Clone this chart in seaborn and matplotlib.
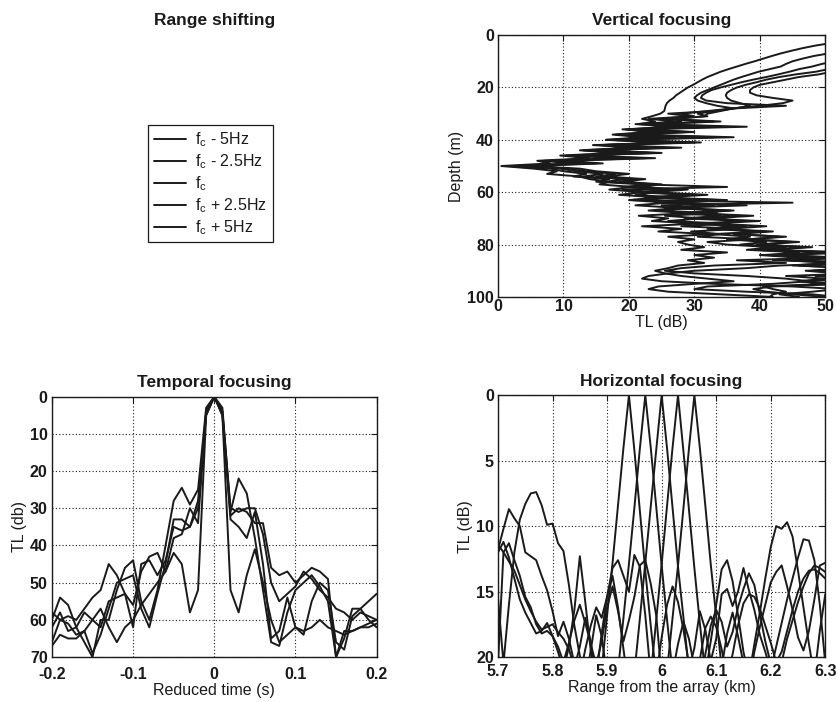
import matplotlib
matplotlib.use("Agg")
import matplotlib.pyplot as plt  # Import matplotlib for the figure and axes
import seaborn as sns  # Import seaborn for the line plots
from matplotlib.lines import Line2D

# Legend labels for the five source frequencies
freq_labels = [r"$\mathregular{f_c}$ - 5Hz", r"$\mathregular{f_c}$ - 2.5Hz",
               r"$\mathregular{f_c}$", r"$\mathregular{f_c}$ + 2.5Hz",
               r"$\mathregular{f_c}$ + 5Hz"]

# Vertical focusing: depth (m) and TL (dB) of the five curves
depth = [0, 1, 2, 3, 4, 5, 6, 7, 8, 9,
         10, 11, 12, 13, 14, 15, 16, 17, 18, 19,
         20, 21, 22, 23, 24, 25, 26, 27, 28, 29,
         30, 31, 32, 33, 34, 35, 36, 37, 38, 39,
         40, 41, 42, 43, 44, 45, 46, 47, 48, 49,
         50, 51, 52, 53, 54, 55, 56, 57, 58, 59,
         60, 61, 62, 63, 64, 65, 66, 67, 68, 69,
         70, 71, 72, 73, 74, 75, 76, 77, 78, 79,
         80, 81, 82, 83, 84, 85, 86, 87, 88, 89,
         90, 91, 92, 93, 94, 95, 96, 97, 98, 99,
         100]
vert_1 = [70, 64, 58, 51, 48.5, 46.5, 44.8, 43.2, 41.8, 40.5,
          39.2, 37.8, 36.5, 35.2, 34.0, 33.0, 32.0, 31.2, 30.5, 29.8,
          29.0, 28.4, 27.8, 27.2, 26.8, 26.2, 25.8, 25.6, 25.5, 25.4,
          24.8, 23.5, 22.0, 24.0, 21.5, 26.0, 19.5, 23.0, 17.5, 22.0,
          16.5, 24.5, 15.5, 20.0, 12.5, 18.0, 9.5, 14.0, 6.0, 8.0,
          0.5, 5.5, 9.0, 7.5, 12.5, 14.0, 17.0, 15.5, 20.5, 17.0,
          22.0, 18.5, 24.5, 20.0, 26.0, 21.0, 27.5, 23.0, 29.0, 21.5,
          26.0, 23.5, 30.5, 22.0, 28.0, 24.5, 32.5, 26.0, 30.0, 27.5,
          29.0, 31.5, 28.0, 35.0, 30.0, 33.0, 29.0, 31.5, 27.5, 26.0,
          24.0, 25.5, 28.0, 32.0, 36.0, 30.0, 24.5, 23.0, 26.0, 34.0,
          42.0]
vert_2 = [80, 75, 70, 66, 62, 58, 54, 50.5, 48.2, 46.5,
          45.0, 44.0, 43.2, 41.5, 39.8, 38.5, 37.2, 36.0, 35.0, 34.0,
          33.0, 32.0, 31.0, 30.4, 30.0, 30.5, 31.8, 33.5, 36.0, 33.0,
          26.0, 29.5, 23.0, 27.5, 21.0, 31.0, 19.0, 25.0, 18.0, 27.0,
          16.5, 30.0, 14.5, 22.0, 13.0, 20.0, 10.5, 18.5, 7.0, 11.0,
          2.0, 8.0, 10.0, 13.5, 11.5, 17.0, 15.0, 22.0, 35.0, 19.0,
          24.0, 21.0, 27.0, 20.5, 45.0, 25.0, 30.0, 24.0, 33.5, 25.5,
          31.0, 26.0, 35.0, 28.0, 37.0, 29.5, 34.0, 30.5, 39.0, 32.0,
          35.0, 42.0, 38.0, 46.0, 41.0, 50.5, 36.5, 44.0, 33.0, 28.0,
          25.5, 30.0, 38.0, 44.0, 47.5, 42.0, 32.0, 30.0, 38.0, 48.0,
          52.0]
vert_3 = [85, 82, 78, 74, 70, 66, 62, 59, 56, 53.5,
          51.5, 49.5, 48.0, 46.0, 44.5, 42.8, 41.0, 39.0, 37.2, 35.6,
          34.0, 32.6, 31.8, 31.2, 31.0, 31.8, 35.0, 44.0, 36.0, 32.0,
          28.0, 30.0, 24.5, 33.0, 22.5, 29.0, 20.0, 27.5, 19.0, 24.0,
          17.5, 26.0, 16.0, 24.0, 14.0, 23.0, 11.5, 20.5, 8.0, 15.0,
          3.0, 9.5, 12.0, 16.0, 13.0, 19.5, 16.5, 24.0, 19.0, 26.0,
          21.0, 29.0, 22.5, 31.0, 24.0, 33.0, 25.5, 36.0, 27.0, 34.0,
          28.5, 38.0, 30.0, 36.0, 32.0, 40.0, 33.0, 38.5, 35.0, 41.0,
          37.0, 44.0, 39.0, 52.0, 40.0, 46.0, 42.0, 55.0, 43.0, 38.0,
          30.0, 26.0, 23.0, 22.0, 25.0, 33.0, 45.0, 52.0, 48.0, 43.0,
          46.0]
vert_4 = [90, 87, 84, 80, 76, 72, 68, 64, 61, 58,
          56, 54, 52, 50.5, 48.5, 45.5, 43.0, 41.0, 39.5, 37.8,
          36.5, 35.6, 35.0, 34.8, 35.0, 35.6, 37.0, 38.5, 36.0, 33.0,
          30.5, 32.0, 26.0, 34.0, 23.5, 38.0, 21.5, 30.0, 20.0, 33.0,
          18.5, 28.0, 16.5, 25.5, 14.5, 24.0, 12.0, 22.5, 9.0, 13.0,
          4.5, 11.0, 13.5, 18.0, 15.0, 21.0, 18.5, 23.0, 20.0, 27.0,
          22.5, 30.0, 24.0, 34.0, 26.5, 38.0, 27.0, 33.0, 29.5, 37.0,
          31.0, 40.0, 32.0, 38.0, 34.0, 42.0, 36.0, 44.0, 38.0, 45.0,
          39.5, 48.0, 41.0, 55.0, 43.0, 52.0, 45.0, 58.0, 46.0, 53.0,
          48.0, 55.0, 44.0, 50.0, 46.0, 54.0, 42.0, 39.0, 41.0, 45.0,
          50.0]
vert_5 = [95, 92, 88, 85, 82, 78, 75, 71, 68, 65,
          62, 59, 56, 53, 51, 49, 46, 44, 42, 40,
          39, 38.5, 38.5, 39.5, 42.0, 45.0, 43.5, 40.0, 36.0, 34.0,
          32.0, 31.5, 27.0, 28.0, 25.0, 34.0, 22.0, 29.0, 21.0, 36.0,
          19.0, 31.0, 17.0, 28.0, 15.5, 25.0, 13.0, 24.0, 10.0, 16.0,
          5.0, 12.5, 15.0, 20.0, 16.5, 22.5, 19.0, 25.0, 21.5, 29.0,
          23.5, 32.0, 25.0, 35.0, 27.5, 31.0, 28.0, 35.5, 30.0, 39.0,
          32.5, 37.5, 33.5, 41.0, 35.0, 39.5, 36.5, 43.0, 38.5, 46.0,
          40.0, 47.0, 41.5, 50.0, 43.0, 53.0, 44.5, 50.5, 45.0, 56.0,
          47.0, 52.0, 48.5, 54.0, 46.0, 50.0, 40.5, 42.0, 44.0, 42.0,
          41.5]

# Temporal focusing: reduced time (s) and TL (db)
red_time = [-0.20, -0.19, -0.18, -0.17, -0.16, -0.15, -0.14, -0.13, -0.12, -0.11,
            -0.10, -0.09, -0.08, -0.07, -0.06, -0.05, -0.04, -0.03, -0.02, -0.01,
            0.00, 0.01, 0.02, 0.03, 0.04, 0.05, 0.06, 0.07, 0.08, 0.09,
            0.10, 0.11, 0.12, 0.13, 0.14, 0.15, 0.16, 0.17, 0.18, 0.19,
            0.20]
temp_1 = [67, 64, 65, 65, 63, 60, 57, 62, 66, 62,
          60, 56, 53, 50, 47, 42, 45, 58, 52, 5,
          0, 5, 52, 58, 48, 41, 50, 60, 66, 64,
          62, 63, 62, 60, 62, 63, 64, 63, 62, 62,
          61]
temp_2 = [60, 54, 56, 62, 66, 70, 60, 60, 52, 46,
          44, 55, 60, 52, 40, 28, 24.5, 29, 25, 3,
          0, 3, 31, 22, 26, 38, 52, 66, 67, 58,
          52, 50, 48, 51, 55, 70, 63, 63, 62, 61,
          60]
temp_3 = [58, 60, 61, 64, 63, 69, 64, 57, 50, 49,
          48, 57, 62, 53, 45, 33, 33, 35, 30, 4,
          0, 4, 30, 31, 30, 30, 37, 50, 55, 53,
          51, 47, 49, 52, 54, 57, 58, 60, 58, 59,
          60]
temp_4 = [62, 58, 63, 62, 58, 60, 62, 55, 54, 53,
          56, 47, 43, 42, 47, 38, 37, 30, 34, 4,
          0, 4, 33, 35, 38, 31, 45, 65, 63, 54,
          62, 64, 55, 50, 52, 66, 68, 59, 57, 60,
          62]
temp_5 = [66, 60, 59, 60, 57, 54, 52, 45, 48, 53,
          62, 45, 44, 48, 44, 35, 36, 35, 28, 5,
          0, 5, 32, 30, 31, 34, 34, 46, 48, 47,
          50, 48, 46, 47, 49, 70, 65, 57, 57, 55,
          53]

# Horizontal focusing: range from the array (km) and TL (dB)
range_km = [5.70, 5.71, 5.72, 5.73, 5.74, 5.75, 5.76, 5.77, 5.78, 5.79,
            5.80, 5.81, 5.82, 5.83, 5.84, 5.85, 5.86, 5.87, 5.88, 5.89,
            5.90, 5.91, 5.92, 5.93, 5.94, 5.95, 5.96, 5.97, 5.98, 5.99,
            6.00, 6.01, 6.02, 6.03, 6.04, 6.05, 6.06, 6.07, 6.08, 6.09,
            6.10, 6.11, 6.12, 6.13, 6.14, 6.15, 6.16, 6.17, 6.18, 6.19,
            6.20, 6.21, 6.22, 6.23, 6.24, 6.25, 6.26, 6.27, 6.28, 6.29,
            6.30]
horiz_1 = [11.4, 12.0, 12.7, 13.4, 14.5, 15.6, 16.5, 17.3, 17.9, 17.7,
           17.5, 18.1, 18.6, 19.4, 20.8, 19.2, 17.0, 18.8, 23.0, 21.0,
           16.8, 12.8, 8.4, 4.0, 0.0, 4.2, 8.8, 13.4, 17.6, 21.5,
           18.5, 16.0, 14.6, 15.8, 17.9, 20.6, 23.0, 20.2, 17.8, 16.9,
           17.7, 19.4, 21.5, 19.8, 17.6, 15.9, 15.2, 15.4, 16.3, 17.6,
           18.9, 20.4, 19.6, 18.0, 16.4, 15.0, 14.0, 13.4, 13.3, 13.6,
           14.0]
horiz_2 = [15.5, 20.5, 16.0, 12.0, 9.5, 8.3, 7.5, 7.4, 8.4, 9.9,
           9.8, 11.3, 11.9, 14.5, 17.6, 19.9, 22.0, 19.5, 16.8, 18.4,
           21.5, 24.0, 21.0, 17.0, 12.9, 8.6, 4.1, 0.0, 4.0, 8.5,
           13.0, 17.2, 21.2, 19.0, 17.3, 18.6, 20.8, 22.5, 19.8, 17.6,
           16.4, 17.3, 19.2, 18.1, 16.2, 14.8, 13.6, 14.5, 16.7, 18.8,
           20.5, 22.0, 20.4, 18.6, 17.2, 15.8, 14.6, 13.6, 13.0, 13.2,
           13.5]
horiz_3 = [12.0, 11.2, 12.4, 14.0, 15.6, 16.6, 17.4, 18.2, 18.0, 17.4,
           18.4, 19.6, 21.0, 19.2, 16.4, 12.3, 15.8, 19.5, 21.5, 18.2,
           15.4, 13.8, 16.2, 19.4, 22.5, 21.2, 17.1, 12.8, 8.5, 4.2,
           0.0, 4.1, 8.6, 13.1, 17.0, 21.0, 19.3, 16.5, 17.9, 20.3,
           18.6, 15.2, 14.8, 16.1, 15.0, 13.2, 14.9, 16.4, 18.3, 19.6,
           21.0, 19.2, 17.4, 15.6, 14.0, 12.4, 11.0, 11.1, 12.6, 16.0,
           20.5]
horiz_4 = [11.8, 10.2, 8.7, 9.4, 10.0, 12.0, 12.3, 12.6, 13.8, 14.9,
           16.5, 18.4, 17.3, 18.6, 20.5, 21.5, 19.4, 17.6, 16.2, 17.0,
           15.4, 13.2, 12.6, 13.8, 15.0, 12.2, 13.1, 16.8, 21.4, 17.2,
           12.9, 8.4, 4.0, 0.0, 4.3, 8.7, 13.2, 17.4, 21.3, 18.8,
           16.0, 13.3, 12.6, 14.2, 16.8, 19.6, 21.5, 19.0, 16.6, 14.0,
           11.6, 10.0, 10.2, 9.7, 10.8, 13.4, 16.2, 19.0, 21.5, 18.0,
           15.2]
horiz_5 = [20.5, 12.0, 11.3, 12.6, 13.8, 15.4, 16.2, 17.5, 18.2, 18.0,
           18.4, 19.2, 20.4, 18.9, 17.2, 16.0, 17.4, 19.0, 20.6, 18.8,
           16.2, 14.6, 16.5, 18.8, 17.2, 15.4, 13.0, 12.6, 14.4, 16.8,
           21.5, 21.0, 17.0, 13.0, 8.6, 4.1, 0.0, 4.0, 8.4, 12.9,
           16.9, 20.8, 18.2, 16.6, 18.4, 20.5, 22.0, 19.6, 17.7, 16.0,
           14.3, 13.5, 13.0, 14.6, 16.4, 18.5, 19.5, 18.0, 15.6, 13.0,
           12.8]

# Basic style: white background, black text, inward ticks like the old Matlab figures
sns.set_theme(style="white", rc={"xtick.direction": "in", "ytick.direction": "in",
                                 "text.color": "k", "axes.labelcolor": "k",
                                 "xtick.color": "k", "ytick.color": "k"})
plt.rcParams['font.family'] = ['Liberation Sans', 'DejaVu Sans']
plt.rcParams['mathtext.fontset'] = 'custom'
plt.rcParams['mathtext.rm'] = 'Liberation Sans'

fig = plt.figure(figsize=(8.37, 7.02), dpi=100)

# Axes placed by hand to follow the reference layout
ax_leg = fig.add_axes([0.062, 0.577, 0.388, 0.373])
ax_vert = fig.add_axes([0.595, 0.577, 0.391, 0.373])
ax_temp = fig.add_axes([0.062, 0.064, 0.388, 0.371])
ax_horiz = fig.add_axes([0.595, 0.064, 0.391, 0.373])

line_kw = dict(color='k', linewidth=1.4, estimator=None, sort=False, legend=False)

# Vertical focusing: TL on x, depth on y
for tl in [vert_1, vert_2, vert_3, vert_4, vert_5]:
    sns.lineplot(x=tl, y=depth, ax=ax_vert, **line_kw)

# Temporal focusing
for tl in [temp_1, temp_2, temp_3, temp_4, temp_5]:
    sns.lineplot(x=red_time, y=tl, ax=ax_temp, **line_kw)

# Horizontal focusing
for tl in [horiz_1, horiz_2, horiz_3, horiz_4, horiz_5]:
    sns.lineplot(x=range_km, y=tl, ax=ax_horiz, **line_kw)


def style_axes(ax, title, xlabel, ylabel, xlim, ylim, xticks, yticks, xticklabels, xpad):
    ax.set_xlim(*xlim)
    ax.set_ylim(*ylim)
    ax.set_xticks(xticks)
    ax.set_xticklabels(xticklabels)
    ax.set_yticks(yticks)
    ax.set_yticklabels([str(t) for t in yticks])
    ax.grid(True, linestyle=(0, (1, 2)), color='k', linewidth=0.8)
    ax.set_title(title, fontsize=12.5, fontweight='bold', pad=7)
    ax.set_xlabel(xlabel, fontsize=11.5, labelpad=1)
    ax.set_ylabel(ylabel, fontsize=11.5, labelpad=2)
    ax.tick_params(axis='both', labelsize=11.5, length=4, width=0.8, pad=3,
                   top=True, right=True)
    ax.tick_params(axis='x', pad=xpad)
    for lab in ax.get_xticklabels() + ax.get_yticklabels():
        lab.set_fontweight('bold')
    for sp in ax.spines.values():
        sp.set_color('k')
        sp.set_linewidth(1.0)


style_axes(ax_vert, "Vertical focusing", "TL (dB)", "Depth (m)",
           (0, 50), (100, 0), [0, 10, 20, 30, 40, 50], [0, 20, 40, 60, 80, 100],
           ["0", "10", "20", "30", "40", "50"], 1.5)
style_axes(ax_temp, "Temporal focusing", "Reduced time (s)", "TL (db)",
           (-0.2, 0.2), (70, 0), [-0.2, -0.1, 0, 0.1, 0.2], [0, 10, 20, 30, 40, 50, 60, 70],
           ["-0.2", "-0.1", "0", "0.1", "0.2"], 7)
style_axes(ax_horiz, "Horizontal focusing", "Range from the array (km)", "TL (dB)",
           (5.7, 6.3), (20, 0), [5.7, 5.8, 5.9, 6.0, 6.1, 6.2, 6.3], [0, 5, 10, 15, 20],
           ["5.7", "5.8", "5.9", "6", "6.1", "6.2", "6.3"], 5)

# Range shifting panel: only the title and the legend
ax_leg.axis('off')
ax_leg.set_title("Range shifting", fontsize=12.5, fontweight='bold', pad=7)
handles = [Line2D([0], [0], color='k', linewidth=1.4) for _ in freq_labels]
leg = fig.legend(handles, freq_labels, loc='upper left',
                 bbox_to_anchor=(148 / 837, 1 - 125 / 702),
                 fontsize=11.5, frameon=True, fancybox=False, framealpha=1,
                 edgecolor='k', handlelength=2.0, handletextpad=0.6,
                 labelspacing=0.2, borderpad=0.35, borderaxespad=0)
leg.get_frame().set_linewidth(0.9)

fig.savefig("out.png", dpi=100)
